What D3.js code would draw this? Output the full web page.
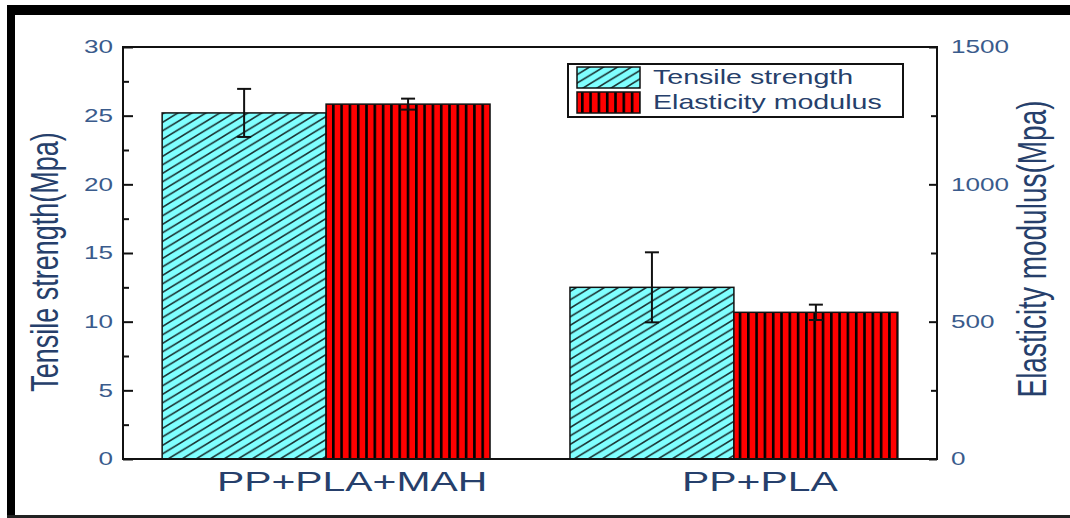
<!DOCTYPE html>
<html>
<head>
<meta charset="utf-8">
<script src="https://cdn.jsdelivr.net/npm/d3@7"></script>
<style>
  html, body { margin: 0; padding: 0; background: #fff; }
  svg { display: block; }
  text { font-family: "Liberation Sans", Arial, sans-serif; }
</style>
</head>
<body>
<svg id="chart" width="1070" height="518"></svg>
<script>
// ---- data ----
const categories = ["PP+PLA+MAH", "PP+PLA"];
const seriesNames = ["Tensile strength", "Elasticity modulus"];
const tensile = [25.2, 12.5];
const tensileErr = [1.75, 2.55];
const modulus = [1292, 534];
const modulusErr = [20, 28];
const leftTicks = [0, 5, 10, 15, 20, 25, 30];
const leftMinor = [2.5, 7.5, 12.5, 17.5, 22.5, 27.5];
const rightTicks = [0, 500, 1000, 1500];
const rightMinor = [250, 750, 1250];

// ---- layout ----
const W = 1070, H = 518;
const L = 123, R = 937, T = 47, B = 459;
const SX = 1.45; // horizontal stretch of text in the reference
const textCol = "#263f6b";
const tickCol = "#3a5b8c";

const svg = d3.select("#chart");
const defs = svg.append("defs");

// hatch pattern: cyan with diagonal lines
const hw = 14, hh = 8.5;
const pc = defs.append("pattern").attr("id", "hatchCyan")
  .attr("patternUnits", "userSpaceOnUse").attr("width", hw).attr("height", hh);
pc.append("rect").attr("width", hw).attr("height", hh).attr("fill", "#80ffff");
pc.append("path")
  .attr("d", `M-2,${1.2} L2,${-1.2} M0,${hh} L${hw},0 M${hw-2},${hh+1.2} L${hw+2},${hh-1.2}`)
  .attr("stroke", "#1b3333").attr("stroke-width", 1.6);

// red with vertical black lines
const rw = 8.3;
const pr = defs.append("pattern").attr("id", "hatchRed")
  .attr("patternUnits", "userSpaceOnUse").attr("width", rw).attr("height", 10);
pr.append("rect").attr("width", rw).attr("height", 10).attr("fill", "#ff0000");
pr.append("rect").attr("x", 0).attr("width", 2.6).attr("height", 10).attr("fill", "#000");

// ---- outer frame ----
svg.append("rect").attr("x", 7).attr("y", 5).attr("width", W - 7).attr("height", 10).attr("fill", "#000");
svg.append("rect").attr("x", 7).attr("y", 5).attr("width", 8).attr("height", H - 5).attr("fill", "#000");
svg.append("rect").attr("x", 7).attr("y", 515).attr("width", W - 7).attr("height", 3).attr("fill", "#222");

// ---- scales ----
const x0 = d3.scaleBand().domain(categories).range([L, R]).paddingInner(0.196).paddingOuter(0.096);
const x1 = d3.scaleBand().domain(seriesNames).range([0, x0.bandwidth()]).padding(0);
const yL = d3.scaleLinear().domain([0, 30]).range([B, T]);
const yR = d3.scaleLinear().domain([0, 1500]).range([B, T]);

// ---- bars ----
const g = svg.append("g");
categories.forEach((c, i) => {
  const gx = x0(c);
  // tensile
  g.append("rect")
    .attr("x", gx + x1(seriesNames[0])).attr("y", yL(tensile[i]))
    .attr("width", x1.bandwidth()).attr("height", yL(0) - yL(tensile[i]))
    .attr("fill", "url(#hatchCyan)").attr("stroke", "#111").attr("stroke-width", 1.5);
  // modulus
  g.append("rect")
    .attr("x", gx + x1(seriesNames[1])).attr("y", yR(modulus[i]))
    .attr("width", x1.bandwidth()).attr("height", yR(0) - yR(modulus[i]))
    .attr("fill", "url(#hatchRed)").attr("stroke", "#111").attr("stroke-width", 1.5);
});

// error bars
function errBar(cx, yTop, yBot) {
  const e = g.append("g").attr("stroke", "#111").attr("stroke-width", 2);
  e.append("line").attr("x1", cx).attr("x2", cx).attr("y1", yTop).attr("y2", yBot);
  e.append("line").attr("x1", cx - 7).attr("x2", cx + 7).attr("y1", yTop).attr("y2", yTop);
  e.append("line").attr("x1", cx - 7).attr("x2", cx + 7).attr("y1", yBot).attr("y2", yBot);
}
categories.forEach((c, i) => {
  const gx = x0(c);
  const cx0 = gx + x1(seriesNames[0]) + x1.bandwidth() / 2;
  const cx1 = gx + x1(seriesNames[1]) + x1.bandwidth() / 2;
  errBar(cx0, yL(tensile[i] + tensileErr[i]), yL(tensile[i] - tensileErr[i]));
  errBar(cx1, yR(modulus[i] + modulusErr[i]), yR(modulus[i] - modulusErr[i]));
});

// ---- axes ----
const axL = svg.append("g").attr("transform", `translate(${L},0)`)
  .call(d3.axisRight(yL).tickValues(leftTicks).tickSize(10).tickFormat(""));
const axLm = svg.append("g").attr("transform", `translate(${L},0)`)
  .call(d3.axisRight(yL).tickValues(leftMinor).tickSize(6).tickFormat(""));
const axR = svg.append("g").attr("transform", `translate(${R},0)`)
  .call(d3.axisLeft(yR).tickValues(rightTicks).tickSize(8).tickFormat(""));
const axRm = svg.append("g").attr("transform", `translate(${R},0)`)
  .call(d3.axisLeft(yR).tickValues(rightMinor).tickSize(6).tickFormat(""));
[axL, axLm, axR, axRm].forEach(a => {
  a.selectAll("path.domain").remove();
  a.selectAll(".tick line").attr("stroke", "#111").attr("stroke-width", 2);
});
// frame
svg.append("rect").attr("x", L).attr("y", T).attr("width", R - L).attr("height", B - T)
  .attr("fill", "none").attr("stroke", "#111").attr("stroke-width", 2);

// tick labels
leftTicks.forEach(v => {
  svg.append("text").attr("transform", `translate(113,${yL(v)}) scale(${SX},1)`)
    .attr("text-anchor", "end").attr("dy", "0.36em")
    .attr("font-size", 18).attr("fill", tickCol).text(v);
});
rightTicks.forEach(v => {
  svg.append("text").attr("transform", `translate(951,${yR(v)}) scale(${SX},1)`)
    .attr("text-anchor", "start").attr("dy", "0.36em")
    .attr("font-size", 18).attr("fill", tickCol).text(v);
});

// category labels
categories.forEach(c => {
  svg.append("text")
    .attr("transform", `translate(${x0(c) + x0.bandwidth() / 2 + 26},491) scale(1.46,1)`)
    .attr("text-anchor", "middle").attr("font-size", 28).attr("fill", textCol).text(c);
});

// axis titles
svg.append("text").attr("transform", `translate(44,262) scale(${SX},1) rotate(-90)`)
  .attr("text-anchor", "middle").attr("dy", "0.36em")
  .attr("font-size", 27).attr("fill", textCol).text("Tensile strength(Mpa)");
svg.append("text").attr("transform", `translate(1031,249) scale(${SX},1) rotate(-90)`)
  .attr("text-anchor", "middle").attr("dy", "0.36em")
  .attr("font-size", 28).attr("fill", textCol).text("Elasticity modulus(Mpa)");

// ---- legend ----
const lg = svg.append("g");
lg.append("rect").attr("x", 568).attr("y", 64).attr("width", 335).attr("height", 53)
  .attr("fill", "#fff").attr("stroke", "#111").attr("stroke-width", 2);
const fills = ["url(#hatchCyan)", "url(#hatchRed)"];
const rowY = [67, 92];
seriesNames.forEach((s, i) => {
  lg.append("rect").attr("x", 577).attr("y", rowY[i]).attr("width", 63).attr("height", 21)
    .attr("fill", fills[i]).attr("stroke", "#111").attr("stroke-width", 1.5);
  lg.append("text").attr("transform", `translate(653,${rowY[i] + 17}) scale(1.43,1)`)
    .attr("font-size", 20).attr("fill", textCol).text(s);
});
</script>
</body>
</html>
